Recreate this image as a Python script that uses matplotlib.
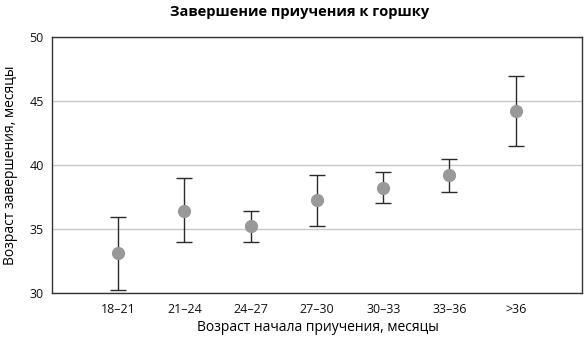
import matplotlib
matplotlib.use("Agg")
import matplotlib.pyplot as plt

plt.rcParams['font.family'] = ['Open Sans', 'DejaVu Sans']

categories = ["18–21", "21–24", "24–27", "27–30", "30–33", "33–36", ">36"]
means = [33.1, 36.4, 35.2, 37.3, 38.2, 39.2, 44.2]
upper = [35.95, 39.0, 36.4, 39.2, 39.45, 40.45, 46.95]
lower = [30.2, 34.0, 34.0, 35.2, 37.0, 37.9, 41.5]

x = list(range(len(categories)))
err_lo = [m - l for m, l in zip(means, lower)]
err_hi = [u - m for m, u in zip(means, upper)]

fig = plt.figure(figsize=(5.88, 3.41), dpi=100)
ax = fig.add_axes([0.0884, 0.1408, 0.9014, 0.7507])

ax.errorbar(x, means, yerr=[err_lo, err_hi], fmt='none', ecolor='#2a2a2a',
            elinewidth=1.0, capsize=6, capthick=1.0, zorder=3)
ax.plot(x, means, 'o', color='#999999', markersize=8.5, zorder=4)

ax.set_xlim(-1, 7)
ax.set_ylim(30, 50)
ax.set_yticks([30, 35, 40, 45, 50])
ax.set_xticks(x)
ax.set_xticklabels(categories)
ax.tick_params(axis='both', length=0, labelsize=9, colors='#111111')
ax.tick_params(axis='x', pad=7)
ax.tick_params(axis='y', pad=6)

ax.yaxis.grid(True, color='#c8c8c8', linewidth=1.0)
ax.set_axisbelow(True)
for s in ax.spines.values():
    s.set_color('#333333')
    s.set_linewidth(1.0)

ax.set_ylabel("Возраст завершения, месяцы", fontsize=10, labelpad=8)
fig.text(0.54, 0.04, "Возраст начала приучения, месяцы", fontsize=10,
         ha='center', va='center')
fig.suptitle("Завершение приучения к горшку", fontsize=10.5, fontweight='bold',
             x=0.51, y=0.985)

fig.savefig("out.png", dpi=100)
